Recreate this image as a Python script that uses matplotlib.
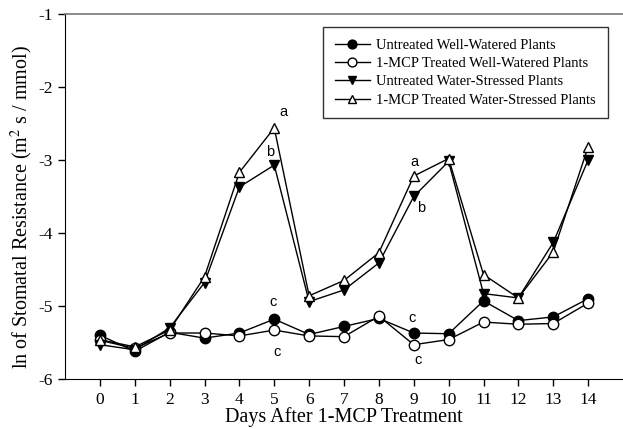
import matplotlib
matplotlib.use("Agg")
import matplotlib.pyplot as plt

plt.rcParams['mathtext.fontset'] = 'stix'

days = list(range(15))
untreated_ww = [-5.40, -5.62, -5.36, -5.44, -5.37, -5.18, -5.39, -5.28, -5.17, -5.37, -5.38, -4.93, -5.20, -5.15, -4.90]
mcp_ww = [-5.47, -5.58, -5.37, -5.37, -5.41, -5.33, -5.41, -5.42, -5.14, -5.53, -5.46, -5.22, -5.25, -5.24, -4.96]
untreated_ws = [-5.53, -5.60, -5.30, -4.68, -3.37, -3.07, -4.94, -4.78, -4.41, -3.50, -3.02, -4.83, -4.89, -4.13, -3.00]
mcp_ws = [-5.46, -5.56, -5.33, -4.60, -3.17, -2.56, -4.86, -4.65, -4.27, -3.22, -2.98, -4.57, -4.89, -4.26, -2.82]

labels = ["Untreated Well-Watered Plants", "1-MCP Treated Well-Watered Plants",
          "Untreated Water-Stressed Plants", "1-MCP Treated Water-Stressed Plants"]

annot_text = ["a", "b", "c", "c", "a", "b", "c", "c"]
annot_x = [5.25, 4.88, 4.96, 5.08, 9.01, 9.2, 8.95, 9.13]
annot_y = [-2.34, -2.89, -4.95, -5.63, -3.03, -3.66, -5.16, -5.74]

serif = ["Liberation Serif", "DejaVu Serif"]
sans = ["Liberation Sans", "DejaVu Sans"]

fig = plt.figure(figsize=(6.23, 4.29), dpi=100)
ax = fig.add_axes([65/623, 50/429, 1 - 65/623, (379 - 14)/429])

ms = 7.5
ax.plot(days, untreated_ww, '-o', color='black', mfc='black', mec='black', ms=ms, lw=1, label=labels[0])
ax.plot(days, mcp_ww, '-o', color='black', mfc='white', mec='black', ms=ms, lw=1, label=labels[1])
ax.plot(days, untreated_ws, '-v', color='black', mfc='black', mec='black', ms=ms, lw=1, label=labels[2])
ax.plot(days, mcp_ws, '-^', color='black', mfc='white', mec='black', ms=ms, lw=1, label=labels[3])

for t, x, y in zip(annot_text, annot_x, annot_y):
    ax.text(x, y, t, family=sans, fontsize=10.5, ha='center', va='center')

ax.set_xlim(-1, 15)
ax.set_ylim(-6, -1)
ax.set_xticks(days)
ax.set_yticks([-6, -5, -4, -3, -2, -1])
ax.set_yticklabels(["-6", "-5", "-4", "-3", "-2", "-1"])
ax.tick_params(direction='out', length=5, width=1, labelsize=12.5, pad=4)
for lab in ax.get_xticklabels() + ax.get_yticklabels():
    lab.set_family(serif)

ax.spines['right'].set_visible(False)
ax.spines['top'].set_color('#777777')
ax.spines['top'].set_linewidth(1.2)

ax.set_xlabel("Days After 1-MCP Treatment", family=serif, fontsize=14.5, labelpad=0)
ax.set_ylabel("ln of Stomatal Resistance (m$^2$ s / mmol)", family=serif, fontsize=14.5)
ax.yaxis.set_label_coords(-0.053, 0.47)

leg = ax.legend(loc='upper left', bbox_to_anchor=(323/623, 1 - 27/429), bbox_transform=fig.transFigure,
                prop={'family': serif, 'size': 10.5}, frameon=True, fancybox=False,
                edgecolor='black', handlelength=2.4, borderpad=0.8, labelspacing=0.35,
                handletextpad=0.45, markerscale=0.85, borderaxespad=0)
leg.get_frame().set_linewidth(1.0)

fig.savefig("out.png", dpi=100)
